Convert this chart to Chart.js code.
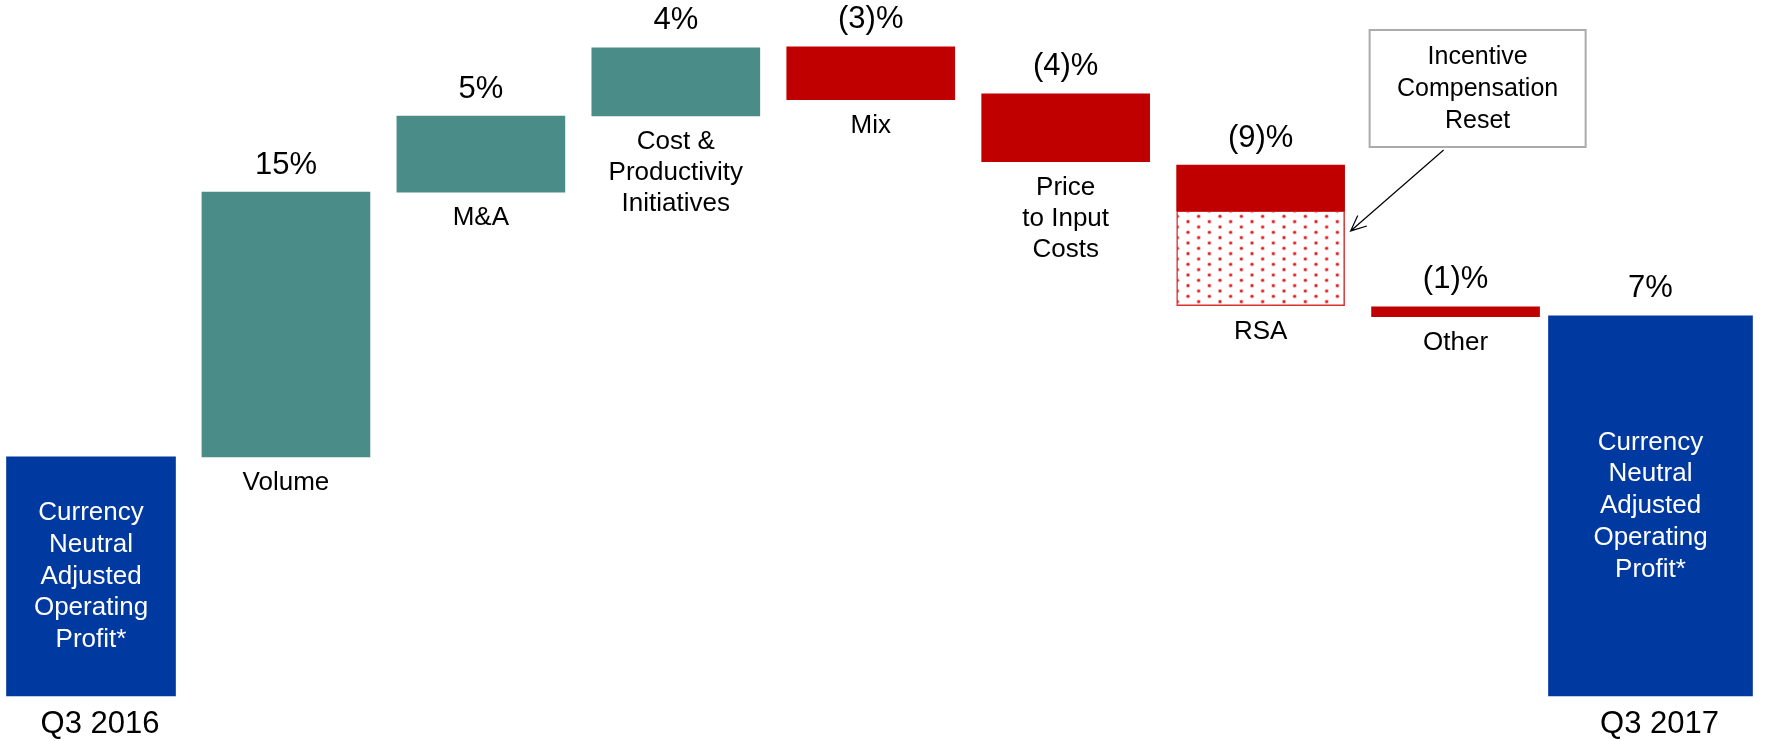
<!DOCTYPE html>
<html>
<head>
<meta charset="utf-8">
<script src="https://cdn.jsdelivr.net/npm/chart.js@4.4.1/dist/chart.umd.min.js"></script>
<style>
  body { margin: 0; background: #fff; }
  #wrap { width: 1766px; height: 741px; position: relative; }
</style>
</head>
<body>
<div id="wrap"><canvas id="myChart"></canvas></div>
<script>
// categories / text
let categories = ['Q3 2016', 'Volume', 'M&A', 'Cost & Productivity Initiatives', 'Mix',
  'Price to Input Costs', 'RSA', 'Other', 'Q3 2017'];
let labelLines = [
  ['Q3 2016'], ['Volume'], ['M&A'], ['Cost &', 'Productivity', 'Initiatives'], ['Mix'],
  ['Price', 'to Input', 'Costs'], ['RSA'], ['Other'], ['Q3 2017']
];
let valueLabels = ['', '15%', '5%', '4%', '(3)%', '(4)%', '(9)%', '(1)%', '7%'];
let totalText = ['Currency', 'Neutral', 'Adjusted', 'Operating', 'Profit*'];
let calloutText = ['Incentive', 'Compensation', 'Reset'];

// bar ranges [from, to]
let startTotal = [[0, 13.5], null, null, null, null, null, null, null, null];
let changes = [null, [13.5, 28.45], [28.45, 32.75], [32.75, 36.6], [36.65, 33.67],
  [34.0, 30.17], [29.98, 27.39], [21.97, 21.42], null];
let rsaReset = [null, null, null, null, null, null, [27.39, 22.04], null, null];
let endTotal = [null, null, null, null, null, null, null, null, [0, 21.46]];

const FONT = '"Liberation Sans", Arial, sans-serif';
const TEAL = '#498C88';
const RED = '#C00000';
const BLUE = '#0039A0';

function dotPattern() {
  const c = document.createElement('canvas');
  c.width = 64;
  c.height = 32;
  const g = c.getContext('2d');
  g.fillStyle = '#fff';
  g.fillRect(0, 0, 64, 32);
  function dot(x, y) {
    g.fillStyle = 'rgba(235,110,110,0.5)';
    g.beginPath(); g.arc(x, y, 2.2, 0, Math.PI * 2); g.fill();
    g.fillStyle = '#DC2222';
    g.beginPath(); g.arc(x, y, 1.3, 0, Math.PI * 2); g.fill();
  }
  for (let i = 0; i < 3; i++) {
    for (let j = 0; j < 3; j++) {
      dot(i * 21.33 + 4, j * 10.67 + 3);
      dot(i * 21.33 + 14.67, j * 10.67 + 8.33);
    }
  }
  return g.createPattern(c, 'repeat');
}

function drawLines(ctx, lines, x, y, step) {
  lines.forEach((t, k) => ctx.fillText(t, x, y + k * step));
}

const labelPlugin = {
  id: 'labels',
  afterDatasetsDraw(chart) {
    const ctx = chart.ctx;
    ctx.save();
    ctx.textAlign = 'center';
    ctx.textBaseline = 'middle';
    let rsa = null;
    for (let i = 0; i < categories.length; i++) {
      let top = Infinity, bottom = -Infinity, x = 0, w = 0;
      chart.data.datasets.forEach((ds, d) => {
        if (!ds.data[i]) return;
        const el = chart.getDatasetMeta(d).data[i];
        top = Math.min(top, el.y, el.base);
        bottom = Math.max(bottom, el.y, el.base);
        x = el.x;
        w = el.width;
      });
      if (i === 6) rsa = { x: x, w: w, top: top, bottom: bottom };

      // value label above the bar
      ctx.fillStyle = '#000';
      ctx.font = '31px ' + FONT;
      if (valueLabels[i]) ctx.fillText(valueLabels[i], x, top - 27);

      if (i === 0 || i === categories.length - 1) {
        ctx.fillStyle = '#fff';
        ctx.font = '26px ' + FONT;
        const mid = (top + bottom) / 2;
        drawLines(ctx, totalText, x, mid - 2 * 31.7, 31.7);
        ctx.fillStyle = '#000';
        ctx.font = '31px ' + FONT;
        drawLines(ctx, labelLines[i], x + 9, bottom + 28, 31);
      } else {
        ctx.font = '26px ' + FONT;
        drawLines(ctx, labelLines[i], x, bottom + 26, 31);
      }
    }

    // callout box + arrow
    if (rsa) {
      const right = rsa.x + rsa.w / 2;
      const bx = right + 25, by = chart.chartArea.top + 30, bw = 216, bh = 117;
      ctx.strokeStyle = '#ABABAB';
      ctx.lineWidth = 2;
      ctx.strokeRect(bx, by, bw, bh);
      ctx.fillStyle = '#000';
      ctx.font = '25px ' + FONT;
      drawLines(ctx, calloutText, bx + bw / 2, by + 27, 32);

      const meta = chart.getDatasetMeta(2).data[6];
      const x1 = bx + 74, y1 = by + bh + 3;
      const x2 = right + 6, y2 = Math.min(meta.y, meta.base) + 20;
      const ang = Math.atan2(y2 - y1, x2 - x1);
      ctx.strokeStyle = '#000';
      ctx.lineWidth = 1.2;
      ctx.beginPath();
      ctx.moveTo(x1, y1);
      ctx.lineTo(x2, y2);
      ctx.moveTo(x2 - 17 * Math.cos(ang - 0.42), y2 - 17 * Math.sin(ang - 0.42));
      ctx.lineTo(x2, y2);
      ctx.lineTo(x2 - 17 * Math.cos(ang + 0.42), y2 - 17 * Math.sin(ang + 0.42));
      ctx.stroke();
    }
    ctx.restore();
  }
};

const ctx = document.getElementById('myChart').getContext('2d');
const chart = new Chart(ctx, {
  type: 'bar',
  data: {
    labels: categories,
    datasets: [
      {
        label: 'Q3 2016',
        data: startTotal,
        backgroundColor: BLUE,
        barThickness: 169,
        grouped: false,
        clip: false
      },
      {
        label: 'Change',
        data: changes,
        backgroundColor: (c) => (c.raw && c.raw[1] > c.raw[0] ? TEAL : RED),
        barThickness: 168,
        grouped: false,
        clip: false
      },
      {
        label: 'Incentive Compensation Reset',
        data: rsaReset,
        backgroundColor: dotPattern(),
        borderColor: '#D83030',
        borderWidth: 1.5,
        borderSkipped: false,
        barThickness: 168,
        grouped: false,
        clip: false
      },
      {
        label: 'Q3 2017',
        data: endTotal,
        backgroundColor: BLUE,
        barThickness: 204,
        grouped: false,
        clip: false
      }
    ]
  },
  options: {
    responsive: true,
    maintainAspectRatio: false,
    animation: false,
    events: [],
    layout: { padding: { left: 91, right: 115.5, top: 0, bottom: 45 } },
    plugins: {
      legend: { display: false },
      tooltip: { enabled: false }
    },
    scales: {
      x: { display: false, offset: false },
      y: { display: false, min: 0, max: 39.3 }
    }
  },
  plugins: [labelPlugin]
});
</script>
</body>
</html>
